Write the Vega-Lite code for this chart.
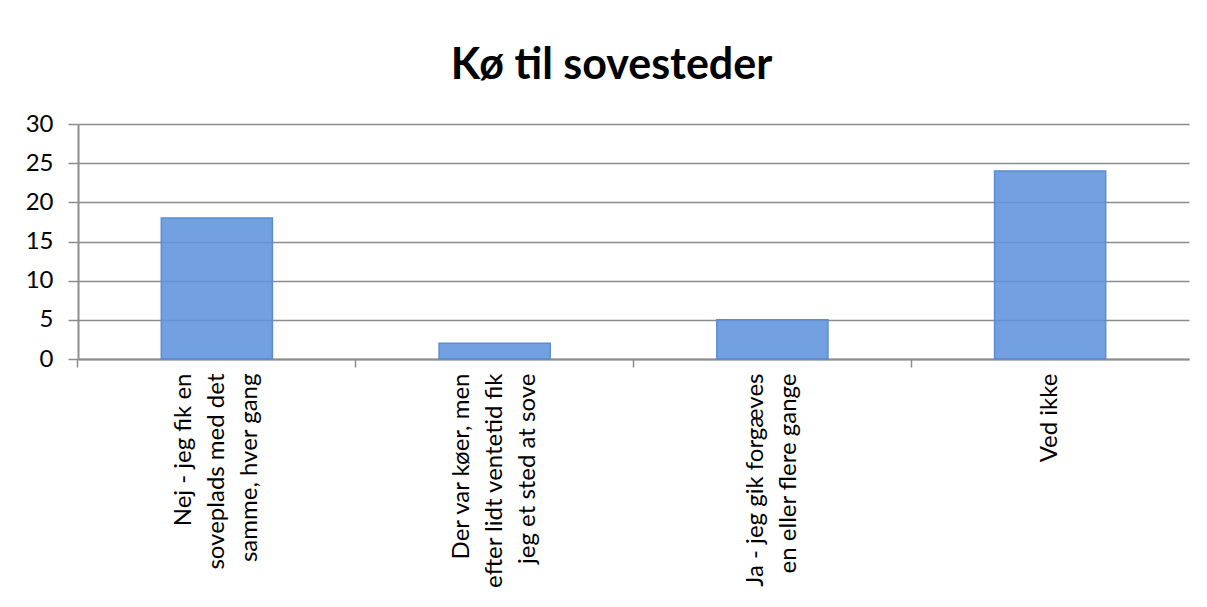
{
  "$schema": "https://vega.github.io/schema/vega-lite/v6.json",
  "width": 1111,
  "height": 235,
  "autosize": {"type": "none"},
  "padding": {"left": 78, "top": 124, "right": 18, "bottom": 248},
  "background": "white",
  "data": {
    "values": [
      {"svar": "Nej - jeg fik en\nsoveplads med det\nsamme, hver gang", "antal": 18, "orden": 1},
      {"svar": "Der var køer, men\nefter lidt ventetid fik\njeg et sted at sove", "antal": 2, "orden": 2},
      {"svar": "Ja - jeg gik forgæves\nen eller flere gange", "antal": 5, "orden": 3},
      {"svar": "Ved ikke", "antal": 24, "orden": 4}
    ]
  },
  "title": {
    "text": "Kø til sovesteder",
    "font": "Lato",
    "fontSize": 43,
    "fontWeight": "bold",
    "color": "#000000",
    "anchor": "middle",
    "frame": "group",
    "dx": -22,
    "dy": 6,
    "offset": 30
  },
  "mark": {"type": "bar", "fill": "#5f93dc", "fillOpacity": 0.88, "stroke": "#5a8bd6", "strokeWidth": 1.5},
  "encoding": {
    "x": {
      "field": "svar",
      "type": "nominal",
      "sort": {"field": "orden"},
      "scale": {"paddingInner": 0.6, "paddingOuter": 0.3},
      "axis": {
        "title": null,
        "labelAngle": -90,
        "labelAlign": "right",
        "labelBaseline": "middle",
        "labelExpr": "split(datum.value, '\\n')",
        "labelOffset": {"expr": "-(length(split(datum.value, '\\n')) - 1) * 16.5"},
        "labelFont": "Lato",
        "labelFontSize": 24,
        "labelLineHeight": 33,
        "labelColor": "#000000",
        "labelLimit": 0,
        "labelPadding": 6,
        "bandPosition": -0.75,
        "tickSize": 8,
        "tickColor": "#8c8c8c",
        "tickWidth": 1.5,
        "domainColor": "#8c8c8c",
        "domainWidth": 2,
        "grid": false
      }
    },
    "y": {
      "field": "antal",
      "type": "quantitative",
      "scale": {"domain": [0, 30], "nice": false},
      "axis": {
        "title": null,
        "values": [0, 5, 10, 15, 20, 25, 30],
        "labelFont": "Lato",
        "labelFontSize": 24,
        "labelColor": "#000000",
        "labelPadding": 15,
        "tickSize": 10,
        "tickColor": "#8c8c8c",
        "tickWidth": 1.5,
        "domainColor": "#8c8c8c",
        "domainWidth": 2,
        "grid": true,
        "gridColor": "#8c8c8c",
        "gridWidth": 1.5
      }
    }
  },
  "config": {"view": {"stroke": null}}
}
